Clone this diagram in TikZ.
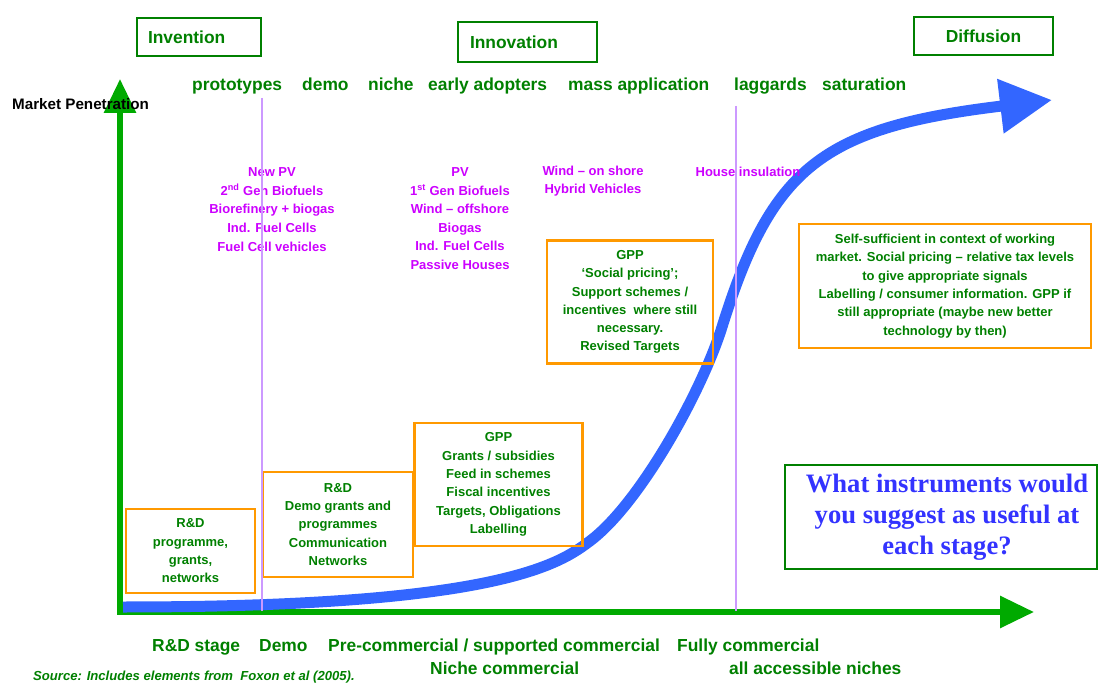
\documentclass[tikz,border=0pt]{standalone}
\usepackage{fontspec}
\setmainfont{Liberation Sans}
\newfontfamily\askfont{Liberation Serif}
\usetikzlibrary{arrows.meta}

\definecolor{axisgreen}{RGB}{0,170,0}
\definecolor{textgreen}{RGB}{0,128,0}
\definecolor{curveblue}{RGB}{51,102,255}
\definecolor{techmagenta}{RGB}{204,0,255}
\definecolor{boxorange}{RGB}{255,153,0}
\definecolor{stageline}{RGB}{204,153,255}
\definecolor{askblue}{RGB}{51,51,255}

\begin{document}
\begin{tikzpicture}[x=1pt,y=-1pt,
  axis/.style={line width=6pt,axisgreen,line cap=rect,-{Triangle[length=34pt,width=31pt]}},
  adoption/.style={line width=11pt,curveblue,-{Triangle[length=52pt,width=52pt]}},
  phase/.style={draw=textgreen,line width=2.5pt,text=textgreen,inner ysep=0pt,
    font=\fontsize{17.4}{20}\selectfont\bfseries},
  stage/.style={text=textgreen,inner sep=0pt,anchor=base west,
    font=\fontsize{17.4}{20}\selectfont\bfseries},
  tech/.style={text=techmagenta,align=center,inner sep=0pt,
    font=\fontsize{13}{18.6}\selectfont\bfseries},
  policy/.style={draw=boxorange,line width=2.5pt,text=textgreen,align=center,inner sep=0pt,
    font=\fontsize{13}{18.3}\selectfont\bfseries},
  divider/.style={line width=2pt,stageline}]

\useasboundingbox (0,0) rectangle (1098,684);

% axes
\coordinate (origin) at (120,612);
\coordinate (ytip) at (120,79);
\coordinate (xtip) at (1034,612);
\draw[axis] (origin) -- (ytip);
\draw[axis] (origin) -- (xtip);

% S-curve
\draw[adoption] (123,607) .. controls (500,607) and (560,563.5) .. (590,541)
  .. controls (640,503.5) and (702,391) .. (722,327)
  .. controls (772,167) and (822,127.6) .. (1052,100);

% phases
\node[phase,inner xsep=11pt,text width=102pt,minimum height=38pt,align=left] (invention) at (199,37) {Invention};
\node[phase,inner xsep=12pt,text width=115pt,minimum height=40pt,align=left] (innovation) at (527.5,42) {Innovation};
\node[phase,inner xsep=12pt,text width=115pt,minimum height=38pt,align=center] (diffusion) at (983.5,36) {Diffusion};

\node[stage] (proto) at (192,91) {prototypes};
\node[stage] (demo) at (302,91) {demo};
\node[stage] (niche) at (368,91) {niche};
\node[stage] (early) at (428,91) {early adopters};
\node[stage] (mass) at (568,91) {mass application};
\node[stage] (lagg) at (734,91) {laggards};
\node[stage] (satur) at (822,91) {saturation};

\node[anchor=west,inner sep=0pt,font=\fontsize{15.2}{18}\selectfont\bfseries] (penetration) at (12,104) {Market Penetration};

% technologies
\node[tech] (techA) at (272,209.5) {New PV\\2\textsuperscript{nd} Gen Biofuels\\Biorefinery + biogas\\Ind. Fuel Cells\\Fuel Cell vehicles};
\node[tech] (techB) at (460,218.5) {PV\\1\textsuperscript{st} Gen Biofuels\\Wind -- offshore\\Biogas\\Ind. Fuel Cells\\Passive Houses};
\node[tech] (techC) at (593,181) {Wind -- on shore\\Hybrid Vehicles};
\node[tech] (techD) at (748,172) {House insulation};

% instruments
\node[policy,minimum width=129pt,minimum height=84pt] (rdbox) at (190.5,551) {R\&D\\programme,\\grants,\\networks};
\node[policy,minimum width=150pt,minimum height=105pt] (demobox) at (338,524.5) {R\&D\\Demo grants and\\programmes\\Communication\\Networks};
\node[policy,minimum width=168pt,minimum height=123pt] (gppbox) at (498.5,484.5) {GPP\\Grants / subsidies\\Feed in schemes\\Fiscal incentives\\Targets, Obligations\\Labelling};
\node[policy,minimum width=166pt,minimum height=123pt] (massbox) at (630,302) {GPP\\`Social pricing';\\Support schemes /\\incentives\ \ where still\\necessary.\\Revised Targets};
\node[policy,minimum width=292pt,minimum height=124pt] (marketbox) at (945,286) {Self-sufficient in context of working\\market. Social pricing -- relative tax levels\\to give appropriate signals\\Labelling / consumer information. GPP if\\still appropriate (maybe new better\\technology by then)};

\node[draw=textgreen,line width=2.5pt,text=askblue,align=center,inner sep=0pt,
  minimum width=312pt,minimum height=104pt,font=\askfont\bfseries\fontsize{26.6}{31}\selectfont]
  (question) at (941,517) {\hspace*{12pt}What instruments would\\\hspace*{12pt}you suggest as useful at\\\hspace*{12pt}each stage?};

% stage dividers
\coordinate (divAtop) at (262,98);
\coordinate (divAbot) at (262,611);
\coordinate (divBtop) at (736,106);
\coordinate (divBbot) at (736,611);
\draw[divider] (divAtop) -- (divAbot);
\draw[divider] (divBtop) -- (divBbot);

% market stages
\node[stage] (rdstage) at (152,651) {R\&D stage};
\node[stage] (demostage) at (259,651) {Demo};
\node[stage] (prestage) at (328,651) {Pre-commercial / supported commercial};
\node[stage] (fullstage) at (677,651) {Fully commercial};
\node[stage] (nichestage) at (430,674) {Niche commercial};
\node[stage] (allstage) at (729,674) {all accessible niches};

\node[anchor=west,inner sep=0pt,text=textgreen,font=\fontsize{13.1}{15}\selectfont\bfseries\itshape] (source) at (33,677) {Source: Includes elements from\ \ Foxon et al (2005).};

\end{tikzpicture}
\end{document}
